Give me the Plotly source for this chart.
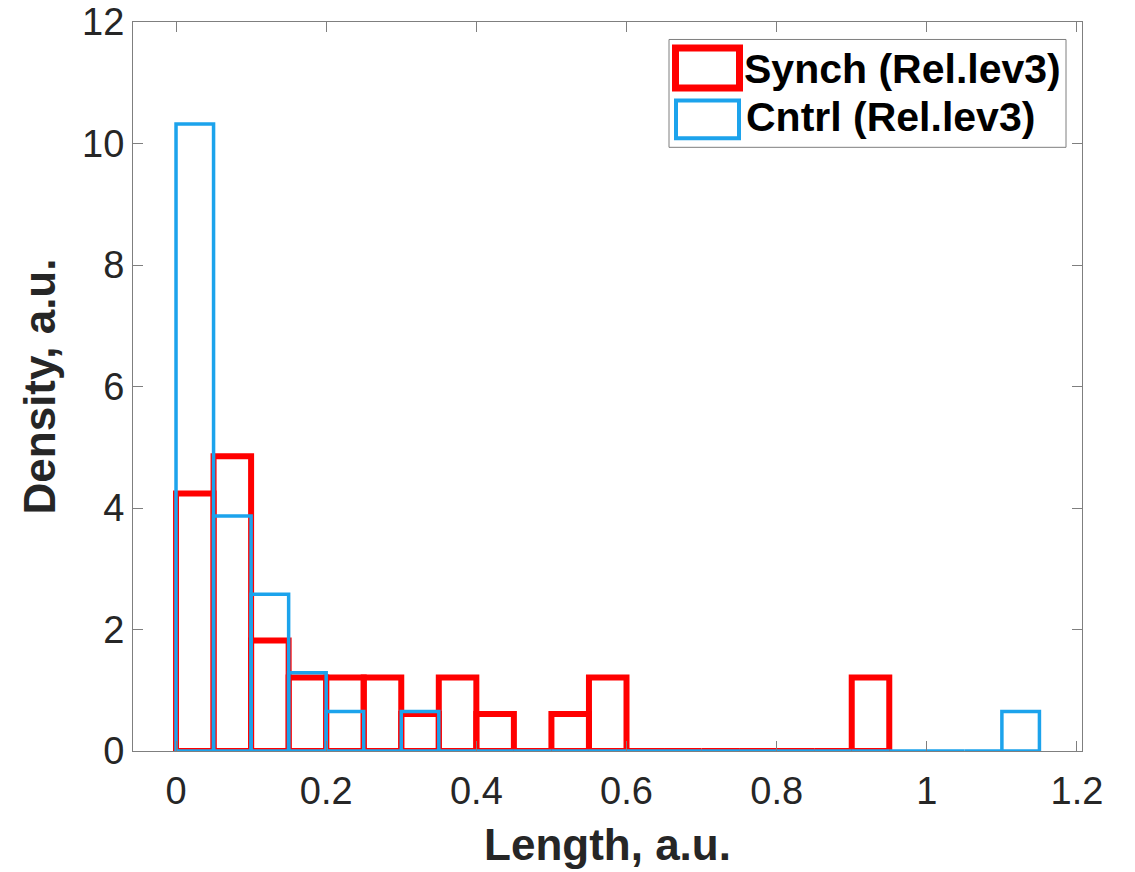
import plotly.graph_objects as go

# ---- data ----
bin_width = 0.05
synch_bin_starts = [round(i * 0.05, 2) for i in range(19)]
synch_density = [4.24, 4.85, 1.82, 1.21, 1.21, 1.21, 0.61, 1.21, 0.61, 0.0,
                 0.61, 1.21, 0.0, 0.0, 0.0, 0.0, 0.0, 0.0, 1.21]
cntrl_bin_starts = [round(i * 0.05, 2) for i in range(23)]
cntrl_density = [10.32, 3.87, 2.58, 1.29, 0.65, 0.0, 0.65,
                 0.0, 0.0, 0.0, 0.0, 0.0, 0.0, 0.0, 0.0, 0.0, 0.0, 0.0, 0.0, 0.0, 0.0, 0.0,
                 0.65]
series_names = ["Synch (Rel.lev3)", "Cntrl (Rel.lev3)"]
x_ticks = [0, 0.2, 0.4, 0.6, 0.8, 1.0, 1.2]
x_ticktext = ["0", "0.2", "0.4", "0.6", "0.8", "1", "1.2"]
y_ticks = [0, 2, 4, 6, 8, 10, 12]

RED = "#FF0000"
BLUE = "#1CA3EC"
FONT = "Liberation Sans, Arial, sans-serif"


def outline(starts, vals, w):
    xs, ys = [], []
    for x0, v in zip(starts, vals):
        x1 = x0 + w
        xs += [x0, x0, x1, x1, x0, None]
        ys += [0, v, v, 0, 0, None]
    return xs, ys


fig = go.Figure()
sx, sy = outline(synch_bin_starts, synch_density, bin_width)
fig.add_trace(go.Scatter(x=sx, y=sy, mode="lines", name=series_names[0],
                         line=dict(color=RED, width=6), showlegend=False,
                         cliponaxis=False))
cx, cy = outline(cntrl_bin_starts, cntrl_density, bin_width)
fig.add_trace(go.Scatter(x=cx, y=cy, mode="lines", name=series_names[1],
                         line=dict(color=BLUE, width=3.5), showlegend=False,
                         cliponaxis=False))

# plot area in pixels
L, R, T, B = 133, 1082, 21.5, 751.5
W, H = 1135, 872


def px(x):
    return (x - L) / (R - L)


def py(y):
    return (B - y) / (B - T)


# custom legend (box + swatches + labels)
shapes = [
    dict(type="rect", xref="paper", yref="paper", x0=px(669), x1=px(1066),
         y0=py(147), y1=py(39), line=dict(color="#7f7f7f", width=1),
         fillcolor="white", layer="above"),
    dict(type="rect", xref="paper", yref="paper", x0=px(675.5), x1=px(739.5),
         y0=py(87.5), y1=py(47.5), line=dict(color=RED, width=7), layer="above"),
    dict(type="rect", xref="paper", yref="paper", x0=px(676), x1=px(739),
         y0=py(138), y1=py(100), line=dict(color=BLUE, width=4), layer="above"),
]
annotations = [
    dict(text="<b>%s</b>" % series_names[0], xref="paper", yref="paper",
         x=px(742), y=py(69), xanchor="left", yanchor="middle", showarrow=False,
         font=dict(family=FONT, size=41, color="black")),
    dict(text="<b>%s</b>" % series_names[1], xref="paper", yref="paper",
         x=px(744), y=py(117), xanchor="left", yanchor="middle", showarrow=False,
         font=dict(family=FONT, size=41, color="black")),
]

axis_common = dict(
    showline=True, linecolor="#7f7f7f", linewidth=1, mirror="ticks",
    ticks="inside", ticklen=10, tickwidth=1, tickcolor="#7f7f7f",
    showgrid=False, zeroline=False,
    tickfont=dict(family=FONT, size=38, color="#262626"),
)

fig.update_layout(
    width=W, height=H,
    margin=dict(l=L, r=W - R, t=T, b=H - B, autoexpand=False),
    paper_bgcolor="white", plot_bgcolor="white",
    xaxis=dict(range=[-0.0573, 1.2067], tickvals=x_ticks, ticktext=x_ticktext,
               ticklabelstandoff=6,
               title=dict(text="<b>Length, a.u.</b>", standoff=18,
                          font=dict(family=FONT, size=44, color="#262626")),
               **axis_common),
    yaxis=dict(range=[0, 12], tickvals=y_ticks,
               title=dict(text="<b>Density, a.u.</b>", standoff=12,
                          font=dict(family=FONT, size=44, color="#262626")),
               **axis_common),
    shapes=shapes, annotations=annotations, showlegend=False,
)

fig.write_html("out.html")
